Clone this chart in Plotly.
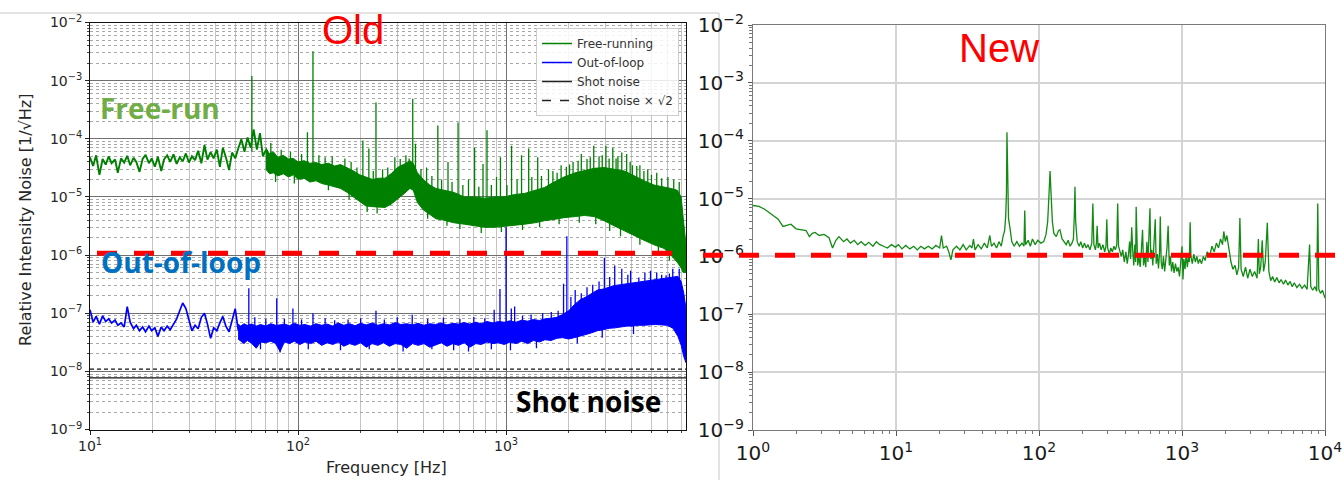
import plotly.graph_objects as go

# ---------------- "Old" panel: free-running RIN ----------------
# low-frequency part (single noisy trace)
fr_line_freq = [10.0, 10.35, 10.7, 11.1, 11.5, 11.9, 12.3, 12.7, 13.2, 13.6, 14.1, 14.6, 15.1, 15.6, 16.2,
                16.7, 17.3, 17.9, 18.5, 19.2, 19.8, 20.5, 21.2, 22.0, 22.7, 23.5, 24.3, 25.2, 26.1, 27.0,
                27.9, 28.9, 29.9, 30.9, 32.0, 33.1, 34.3, 35.5, 36.7, 38.0, 39.3, 40.7, 42.1, 43.5, 45.0,
                46.6, 48.2, 49.9, 51.6, 53.4, 55.3, 57.2, 59.2, 61.2, 63.4, 65.6, 67.8, 70.2]
fr_line_val = [4.8e-5, 3.4e-5, 5.2e-5, 2.4e-5, 4.5e-5, 3.6e-5, 5.0e-5, 3.8e-5, 4.4e-5, 2.6e-5, 4.6e-5,
               3.9e-5, 5.1e-5, 3.5e-5, 4.7e-5, 4.0e-5, 2.7e-5, 4.5e-5, 5.3e-5, 3.8e-5, 4.6e-5, 3.3e-5,
               4.9e-5, 2.8e-5, 4.4e-5, 5.2e-5, 4.0e-5, 5.4e-5, 3.7e-5, 4.8e-5, 4.1e-5, 5.6e-5, 3.9e-5,
               5.0e-5, 4.3e-5, 6.2e-5, 3.8e-5, 7.8e-5, 4.4e-5, 5.9e-5, 4.6e-5, 6.5e-5, 3.3e-5, 7.0e-5,
               4.8e-5, 2.9e-5, 5.8e-5, 4.6e-5, 6.8e-5, 9.8e-5, 6.0e-5, 1.05e-4, 7.0e-5, 1.45e-4, 6.5e-5,
               1.25e-4, 5.0e-5, 6.5e-5]
# dense part (band between low and high envelope)
fr_freq = [70.0, 73.0, 76.0, 80.0, 85.0, 90.0, 95.0, 100, 107, 114, 122, 130, 140, 150, 160, 172, 185, 198,
           212, 228, 245, 262, 280, 300, 325, 345, 358, 375, 400, 430, 460, 500, 560, 630, 700, 790,
           880, 980, 1100, 1230, 1380, 1530, 1700, 1900, 2150, 2380, 2650, 2960, 3300, 3700, 4150,
           4600, 5150, 5750, 6200, 6660, 6950, 7100, 7330]
fr_low = [3.0e-5, 2.5e-5, 2.6e-5, 2.3e-5, 2.5e-5, 2.2e-5, 2.4e-5, 2.0e-5, 2.1e-5, 1.8e-5, 1.9e-5, 1.7e-5,
          1.6e-5, 1.5e-5, 1.4e-5, 1.2e-5, 1.0e-5, 8.5e-6, 7.0e-6, 6.8e-6, 6.6e-6, 6.6e-6, 7.5e-6, 9.0e-6,
          1.15e-5, 1.4e-5, 1.3e-5, 8.0e-6, 6.0e-6, 5.0e-6, 4.2e-6, 4.0e-6, 3.6e-6, 3.4e-6, 3.2e-6, 3.0e-6,
          3.0e-6, 3.1e-6, 3.3e-6, 3.4e-6, 3.6e-6, 3.9e-6, 4.1e-6, 4.4e-6, 4.6e-6, 4.8e-6, 4.6e-6, 3.9e-6,
          3.2e-6, 2.6e-6, 2.1e-6, 1.8e-6, 1.5e-6, 1.3e-6, 1.0e-6, 7.5e-7, 6.0e-7, 5.0e-7, 5.0e-7]
fr_high = [7.0e-5, 5.5e-5, 6.0e-5, 4.8e-5, 5.2e-5, 4.5e-5, 4.6e-5, 4.0e-5, 4.2e-5, 3.8e-5, 3.9e-5, 3.6e-5,
           3.8e-5, 3.4e-5, 3.6e-5, 3.2e-5, 2.8e-5, 2.4e-5, 2.2e-5, 2.0e-5, 2.1e-5, 2.1e-5, 2.5e-5, 3.2e-5,
           3.7e-5, 4.2e-5, 3.8e-5, 2.6e-5, 2.0e-5, 1.6e-5, 1.4e-5, 1.3e-5, 1.2e-5, 1.0e-5, 1.0e-5, 9.5e-6,
           1.0e-5, 1.0e-5, 1.1e-5, 1.15e-5, 1.3e-5, 1.45e-5, 1.8e-5, 2.2e-5, 2.6e-5, 2.8e-5, 3.1e-5, 3.2e-5,
           3.0e-5, 2.8e-5, 2.3e-5, 1.9e-5, 1.6e-5, 1.5e-5, 1.4e-5, 1.3e-5, 1.0e-5, 4.5e-6, 1.5e-6]
# spectral lines and noise excursions: (frequency, start, end)
fr_spike_freq = [60, 111, 118, 205, 219, 237, 292, 342, 356, 367, 415, 470, 526, 588, 706, 775, 810, 940,
                 1063, 1187, 1285, 1420, 1760, 1950, 2100, 2300, 2450, 2640, 2800, 3020, 3260, 3450, 3600,
                 3800, 4050, 4400, 4800, 5300,
                 74, 83, 92, 104, 126, 135, 146, 168, 180, 192, 230, 255, 270, 310, 330, 390, 440, 490,
                 550, 620, 660, 740, 850, 900, 1010, 1130, 1330, 1480, 1600, 1680, 1840, 2020, 2220, 2540,
                 2900, 3130, 3380, 3950, 4250, 4600, 5000, 5600, 6000, 6400, 6800,
                 78, 96, 140, 176, 215, 240, 420, 520, 600, 760, 950, 1200, 1450, 1800, 2250, 2700, 3150,
                 3550, 4400, 5400, 6100]
fr_spike_base = [6e-5, 3e-5, 3e-5, 1.5e-5, 1.5e-5, 1.4e-5, 1.5e-5, 2e-5, 2e-5, 1.8e-5, 1e-5, 8e-6, 8e-6,
                 7e-6, 6e-6, 6e-6, 6e-6, 6e-6, 6e-6, 6e-6, 7e-6, 7e-6, 8e-6, 1e-5, 1e-5, 1e-5, 1e-5, 1e-5,
                 1e-5, 1e-5, 1e-5, 1e-5, 1e-5, 1e-5, 1e-5, 8e-6, 7e-6, 6e-6,
                 4e-5, 3.5e-5, 3e-5, 3e-5, 2.6e-5, 2.6e-5, 2.5e-5, 2.2e-5, 2e-5, 1.6e-5, 1.3e-5, 1.3e-5,
                 1.4e-5, 2e-5, 2.2e-5, 1.4e-5, 1e-5, 8e-6, 7e-6, 6e-6, 6e-6, 6e-6, 6e-6, 6e-6, 6e-6, 6e-6,
                 7e-6, 8e-6, 8e-6, 9e-6, 1e-5, 1.1e-5, 1.2e-5, 1.3e-5, 1.3e-5, 1.3e-5, 1.2e-5, 1e-5, 9e-6,
                 8e-6, 7e-6, 6e-6, 6e-6, 5e-6, 4e-6,
                 3e-5, 2.8e-5, 2.2e-5, 1.5e-5, 1.1e-5, 1e-5, 9e-6, 7e-6, 6e-6, 6e-6, 6e-6, 6e-6, 7e-6,
                 8e-6, 9e-6, 9e-6, 8e-6, 7e-6, 5e-6, 4e-6, 3e-6]
fr_spike_peak = [1.2e-3, 1.3e-4, 3.2e-3, 9.3e-5, 6.8e-5, 4.2e-4, 4.8e-5, 4.6e-5, 4.9e-4, 8.2e-5, 3.2e-5,
                 1.7e-4, 4.0e-5, 1.9e-4, 7.0e-5, 3.7e-5, 1.4e-4, 4.8e-5, 7.6e-5, 5.2e-5, 6.8e-5, 4.8e-5,
                 2.6e-5, 3.3e-5, 4.0e-5, 5.5e-5, 4.5e-5, 7.6e-5, 5.0e-5, 7.6e-5, 7.0e-5, 5.0e-5, 5.8e-5,
                 5.5e-5, 3.5e-5, 3.5e-5, 3.0e-5, 2.6e-5,
                 8.5e-5, 6.5e-5, 6.0e-5, 5.5e-5, 5.2e-5, 4.8e-5, 5.0e-5, 4.6e-5, 4.0e-5, 3.2e-5, 2.8e-5,
                 3.0e-5, 3.2e-5, 4.5e-5, 5.2e-5, 3.0e-5, 2.3e-5, 2.0e-5, 1.8e-5, 1.6e-5, 2.0e-5, 1.5e-5,
                 1.6e-5, 2.2e-5, 1.6e-5, 2.0e-5, 2.2e-5, 2.3e-5, 3.0e-5, 2.8e-5, 3.5e-5, 3.6e-5, 4.2e-5,
                 4.8e-5, 5.2e-5, 4.6e-5, 4.6e-5, 4.0e-5, 3.4e-5, 2.8e-5, 2.4e-5, 2.1e-5, 2.2e-5, 2.0e-5,
                 1.8e-5,
                 1.8e-5, 1.7e-5, 1.3e-5, 9e-6, 5.5e-6, 5.2e-6, 4.2e-6, 3.2e-6, 2.8e-6, 2.4e-6, 2.5e-6,
                 2.7e-6, 3.0e-6, 3.4e-6, 3.6e-6, 3.4e-6, 2.6e-6, 2.1e-6, 1.5e-6, 1.1e-6, 8e-7]

# ---------------- "Old" panel: out-of-loop RIN ----------------
ol_line_freq = [10.0, 10.35, 10.7, 11.1, 11.5, 11.9, 12.3, 12.7, 13.2, 13.6, 14.1, 14.6, 15.1, 15.6, 16.2,
                16.7, 17.3, 17.9, 18.5, 19.2, 19.8, 20.5, 21.2, 22.0, 22.7, 23.5, 24.3, 25.2, 26.1, 27.0,
                27.9, 28.9, 29.9, 30.9, 32.0, 33.1, 34.3, 35.5, 36.7, 38.0, 39.3, 40.7, 42.1, 43.5, 45.0,
                46.6, 48.2, 49.9, 51.6]
ol_line_val = [1.15e-7, 7.0e-8, 8.8e-8, 6.5e-8, 9.0e-8, 7.2e-8, 8.0e-8, 6.8e-8, 7.6e-8, 6.2e-8, 6.8e-8,
               5.8e-8, 1.3e-7, 7.0e-8, 5.4e-8, 6.2e-8, 5.0e-8, 5.8e-8, 4.8e-8, 6.0e-8, 5.0e-8, 5.6e-8,
               4.0e-8, 5.8e-8, 5.0e-8, 6.0e-8, 5.2e-8, 6.6e-8, 8.0e-8, 1.1e-7, 1.5e-7, 1.2e-7, 8.0e-8,
               5.0e-8, 6.2e-8, 5.4e-8, 8.5e-8, 1.0e-7, 6.5e-8, 3.7e-8, 5.6e-8, 5.0e-8, 6.8e-8, 8.8e-8,
               6.0e-8, 4.8e-8, 7.5e-8, 1.2e-7, 5.0e-8]
ol_freq = [51.5, 53, 55, 57, 60, 63, 66, 70, 74, 78, 82, 86, 91, 96, 102, 108, 115, 122, 130, 138, 147, 156,
           166, 177, 188, 200, 213, 227, 242, 258, 275, 293, 312, 333, 355, 378, 403, 430, 458, 488, 520,
           555, 590, 630, 670, 715, 760, 810, 865, 920, 980, 1045, 1115, 1190, 1270, 1355, 1445, 1540, 1645,
           1755, 1870, 2000, 2130, 2270, 2420, 2580, 2750, 2930, 3130, 3340, 3560, 3800, 4050, 4320, 4600,
           4900, 5230, 5580, 5950, 6350, 6700, 6950, 7150, 7330]
ol_low = [3.6e-8, 3.3e-8, 3.0e-8, 3.4e-8, 3.0e-8, 2.5e-8, 3.2e-8, 3.1e-8, 3.3e-8, 3.0e-8, 2.2e-8, 3.2e-8,
          3.0e-8, 3.3e-8, 2.9e-8, 3.2e-8, 3.0e-8, 3.3e-8, 2.8e-8, 3.1e-8, 2.9e-8, 3.2e-8, 2.7e-8, 3.0e-8,
          2.8e-8, 3.1e-8, 2.6e-8, 3.0e-8, 2.8e-8, 3.1e-8, 2.7e-8, 3.0e-8, 2.9e-8, 2.5e-8, 3.0e-8, 2.8e-8,
          3.0e-8, 2.6e-8, 2.8e-8, 3.1e-8, 2.7e-8, 3.0e-8, 2.8e-8, 3.1e-8, 2.6e-8, 3.0e-8, 2.9e-8, 3.2e-8,
          3.0e-8, 3.1e-8, 2.9e-8, 3.2e-8, 3.0e-8, 3.3e-8, 3.0e-8, 3.4e-8, 3.2e-8, 3.5e-8, 3.4e-8, 3.7e-8,
          3.8e-8, 3.6e-8, 3.8e-8, 4.0e-8, 4.3e-8, 4.6e-8, 5.0e-8, 5.2e-8, 5.5e-8, 5.6e-8, 5.8e-8, 6.0e-8,
          6.0e-8, 6.2e-8, 6.2e-8, 6.3e-8, 6.4e-8, 6.3e-8, 6.2e-8, 5.5e-8, 4.0e-8, 2.8e-8, 1.8e-8, 1.4e-8]
ol_high = [6.5e-8, 6.0e-8, 6.6e-8, 6.2e-8, 6.5e-8, 6.0e-8, 6.4e-8, 6.0e-8, 6.6e-8, 6.2e-8, 6.3e-8, 6.5e-8,
           6.1e-8, 6.7e-8, 6.2e-8, 6.4e-8, 6.0e-8, 6.6e-8, 6.2e-8, 6.5e-8, 6.0e-8, 6.8e-8, 6.2e-8, 6.6e-8,
           6.1e-8, 6.7e-8, 6.3e-8, 6.8e-8, 6.2e-8, 6.6e-8, 6.3e-8, 6.9e-8, 6.4e-8, 6.6e-8, 6.3e-8, 6.7e-8,
           6.2e-8, 6.6e-8, 6.4e-8, 6.8e-8, 6.3e-8, 6.7e-8, 6.5e-8, 6.9e-8, 6.5e-8, 7.0e-8, 6.6e-8, 7.2e-8,
           6.8e-8, 7.2e-8, 7.0e-8, 7.4e-8, 7.0e-8, 7.6e-8, 7.3e-8, 7.8e-8, 7.5e-8, 8.0e-8, 8.2e-8, 8.5e-8,
           9.5e-8, 1.1e-7, 1.4e-7, 1.7e-7, 1.9e-7, 2.2e-7, 2.5e-7, 2.6e-7, 2.8e-7, 3.0e-7, 3.1e-7, 3.2e-7,
           3.3e-7, 3.5e-7, 3.6e-7, 3.7e-7, 3.8e-7, 3.9e-7, 4.0e-7, 4.2e-7, 4.3e-7, 3.5e-7, 2.2e-7, 1.2e-7]
ol_spike_freq = [58, 79, 94.5, 118, 174, 237, 354, 877, 935, 1000, 1060, 1100, 1890, 1960, 2300, 2610,
                 2970, 3330, 3600, 3970, 4350, 4950, 5880, 6330, 6800,
                 62, 70, 86, 104, 135, 150, 200, 260, 300, 420, 500, 600, 700, 790, 1200, 1320, 1500,
                 1650, 1780, 2050, 2150, 2450, 2800, 3150, 3850, 4650, 5300, 5600, 6100,
                 66, 82, 112, 160, 220, 320, 440, 560, 660, 850, 1050, 1400, 2200, 2900, 4100]
ol_spike_base = [5e-8, 4.5e-8, 4.5e-8, 4.5e-8, 4.5e-8, 4.5e-8, 4.5e-8, 5e-8, 5e-8, 5e-8, 5e-8, 5e-8, 6e-8,
                 6e-8, 1e-7, 1e-7, 1e-7, 1.2e-7, 1.2e-7, 1.2e-7, 1.3e-7, 1.3e-7, 1.3e-7, 1.3e-7, 1.3e-7,
                 4.5e-8, 4.5e-8, 4.5e-8, 4.5e-8, 4.5e-8, 4.5e-8, 4.5e-8, 4.5e-8, 4.5e-8, 4.5e-8, 4.5e-8,
                 4.5e-8, 4.5e-8, 4.5e-8, 5e-8, 5e-8, 5e-8, 5e-8, 5e-8, 6e-8, 7e-8, 8e-8, 1e-7, 1e-7,
                 1.2e-7, 1.3e-7, 1.3e-7, 1.3e-7, 1.3e-7,
                 4e-8, 4e-8, 4e-8, 4e-8, 4e-8, 4e-8, 4e-8, 4e-8, 4e-8, 4e-8, 4e-8, 4e-8, 6e-8, 8e-8, 9e-8]
ol_spike_peak = [2.7e-7, 1.8e-7, 1.2e-7, 1.0e-7, 7.8e-8, 1.1e-7, 9.4e-8, 1.15e-7, 2.6e-7, 3.0e-6, 1.2e-7,
                 1.3e-7, 3.2e-7, 2.1e-6, 2.2e-7, 3.1e-7, 9.0e-7, 6.6e-7, 5.8e-7, 5.4e-7, 4.1e-7, 5.4e-7,
                 4.5e-7, 5.8e-7, 5.8e-7,
                 8.5e-8, 8.0e-8, 8.0e-8, 7.8e-8, 8.2e-8, 7.6e-8, 8.2e-8, 7.8e-8, 8.5e-8, 8.0e-8, 8.4e-8,
                 8.0e-8, 8.6e-8, 8.2e-8, 9.0e-8, 9.5e-8, 1.0e-7, 1.05e-7, 1.1e-7, 1.9e-7, 2.5e-7, 2.8e-7,
                 3.5e-7, 4.2e-7, 4.6e-7, 5.0e-7, 5.0e-7, 4.6e-7, 4.8e-7,
                 2.4e-8, 2.1e-8, 2.4e-8, 2.3e-8, 2.4e-8, 2.2e-8, 2.4e-8, 2.3e-8, 2.2e-8, 2.4e-8, 2.3e-8,
                 2.5e-8, 3.0e-8, 3.8e-8, 4.4e-8]

shot_noise = 7.7e-9
old_freq_span = [10, 7330]

# ---------------- "New" panel ----------------
new_freq = [1.00, 1.10, 1.20, 1.36, 1.50, 1.62, 1.75, 1.84, 2.0, 2.2, 2.35, 2.48, 2.6, 2.72, 2.9, 3.14, 3.4,
            3.6, 3.8, 3.99, 4.3, 4.54, 4.8, 5.1, 5.4, 5.7, 6.1, 6.45, 6.9, 7.3, 7.7, 8.2, 8.7, 9.3, 9.9,
            10.4, 11.0, 11.7, 12.5, 13.3, 14.1, 14.9, 15.8, 16.8, 17.9, 19.0, 20.2, 20.8, 21.4, 22.6, 23.4,
            24.2, 25.0, 26.5, 28.0, 29.5, 31.0, 32.8, 34.0, 34.8, 35.7, 37.5, 39.5, 41.5, 43.5, 45.3, 46.5,
            48.5, 50.5, 52.5, 54.5, 56.0, 57.5, 58.5, 59.2, 59.7, 60.3, 61.2, 62.8, 64.5, 67, 70, 73, 76,
            78.5, 79.5, 80.5, 84, 87, 90, 94, 98, 103, 108, 112, 115, 117.5, 119.5, 121.5, 124, 127, 132,
            137, 140, 145, 150, 155, 160, 165, 170, 174, 176.5, 178.5, 180.5, 185, 191, 196, 202, 208, 214,
            220, 227, 234, 238, 242, 248, 252, 255, 259, 265, 272, 280, 288, 294, 298, 302, 310, 318, 326,
            334, 342, 350, 355, 360, 368, 376, 385, 395, 405, 414, 423, 430, 437, 445, 452, 460, 468, 474,
            478, 483, 490, 500, 510, 520, 530, 538, 548, 558, 568, 578, 588, 597, 605, 615, 625, 638, 650,
            660, 672, 685, 697, 705, 715, 728, 742, 756, 770, 785, 800, 815, 830, 845, 862, 880, 900, 920,
            940, 960, 980, 1000, 1016, 1030, 1050, 1070, 1090, 1110, 1125, 1140, 1155, 1180, 1210, 1240,
            1270, 1300, 1330, 1370, 1410, 1450, 1500, 1560, 1620, 1680, 1740, 1800, 1860, 1920, 1960, 2010,
            2060, 2130, 2200, 2270, 2350, 2420, 2490, 2540, 2590, 2680, 2780, 2880, 2990, 3100, 3220, 3350,
            3420, 3470, 3550, 3640, 3720, 3820, 3950, 4050, 4170, 4300, 4450, 4600, 4780, 4930, 5120, 5300,
            5500, 5700, 5900, 6100, 6350, 6640, 6900, 7200, 7500, 7800, 7950, 8200, 8500, 8750, 8900, 9050,
            9300, 9600, 9800, 10000]
new_rin = [7.6e-6, 7.3e-6, 6.6e-6, 5.3e-6, 4.4e-6, 3.3e-6, 3.5e-6, 3.6e-6, 3.0e-6, 2.9e-6, 2.8e-6, 2.2e-6,
           2.5e-6, 2.6e-6, 2.3e-6, 2.4e-6, 2.1e-6, 1.4e-6, 1.9e-6, 2.2e-6, 1.8e-6, 2.0e-6, 1.7e-6, 1.9e-6,
           1.6e-6, 1.8e-6, 1.55e-6, 1.75e-6, 1.5e-6, 1.8e-6, 1.6e-6, 1.5e-6, 1.4e-6, 1.6e-6, 1.45e-6, 1.6e-6,
           1.35e-6, 1.55e-6, 1.35e-6, 1.5e-6, 1.3e-6, 1.5e-6, 1.35e-6, 1.5e-6, 1.35e-6, 1.55e-6, 1.4e-6,
           2.3e-6, 1.4e-6, 1.5e-6, 1.2e-6, 8.7e-7, 1.3e-6, 1.5e-6, 1.3e-6, 1.6e-6, 1.3e-6, 1.55e-6, 1.4e-6,
           2.0e-6, 1.3e-6, 1.6e-6, 1.35e-6, 1.7e-6, 1.4e-6, 2.3e-6, 1.5e-6, 1.7e-6, 1.4e-6, 1.8e-6, 1.5e-6,
           2.2e-6, 2.8e-6, 5.0e-6, 1.2e-5, 1.4e-4, 1.5e-5, 4.5e-6, 3.0e-6, 1.8e-6, 1.5e-6, 1.8e-6, 1.5e-6,
           1.7e-6, 1.5e-6, 6.2e-6, 1.6e-6, 1.9e-6, 1.5e-6, 2.0e-6, 1.6e-6, 1.9e-6, 1.7e-6, 1.8e-6, 2.4e-6,
           4.0e-6, 1.2e-5, 3.0e-5, 1.2e-5, 4.0e-6, 2.5e-6, 2.2e-6, 2.8e-6, 2.9e-6, 2.0e-6, 1.8e-6, 1.6e-6,
           1.9e-6, 1.5e-6, 1.7e-6, 2.0e-6, 5.0e-6, 1.6e-5, 4.0e-6, 1.8e-6, 1.5e-6, 1.8e-6, 1.4e-6, 1.7e-6,
           1.4e-6, 1.6e-6, 1.3e-6, 1.7e-6, 8.2e-6, 1.6e-6, 1.3e-6, 1.7e-6, 3.4e-6, 1.4e-6, 1.7e-6, 1.3e-6,
           1.6e-6, 1.2e-6, 1.5e-6, 4.4e-6, 1.4e-6, 1.1e-6, 1.4e-6, 1.2e-6, 1.5e-6, 1.3e-6, 1.6e-6, 8.2e-6,
           1.5e-6, 1.2e-6, 1.0e-6, 1.3e-6, 8.0e-7, 1.2e-6, 7.5e-7, 1.1e-6, 1.8e-6, 9.0e-7, 3.2e-6, 1.3e-6,
           7.0e-7, 1.6e-6, 8.0e-7, 7.2e-6, 1.2e-6, 7.0e-7, 1.0e-6, 6.6e-7, 1.3e-6, 2.9e-6, 7.0e-7, 1.0e-6,
           6.5e-7, 1.8e-6, 8.0e-7, 2.5e-6, 6.8e-6, 9.0e-7, 1.3e-6, 7.0e-7, 1.5e-6, 4.4e-6, 7.5e-7, 1.1e-6,
           6.2e-7, 1.2e-6, 4.9e-6, 8.0e-7, 6.0e-7, 1.0e-6, 5.5e-7, 9.0e-7, 1.4e-6, 3.4e-6, 7.0e-7, 1.0e-6,
           5.5e-7, 8.0e-7, 5.2e-7, 7.5e-7, 5.5e-7, 6.5e-7, 4.5e-7, 8.0e-7, 1.5e-6, 4.0e-7, 9.0e-7, 6.0e-7,
           1.1e-6, 6.5e-7, 1.0e-6, 8.0e-7, 3.9e-6, 1.0e-6, 7.5e-7, 1.1e-6, 8.0e-7, 1.0e-6, 7.5e-7, 9.0e-7,
           7.5e-7, 1.0e-6, 8.5e-7, 1.2e-6, 1.0e-6, 1.5e-6, 1.2e-6, 1.7e-6, 1.4e-6, 2.0e-6, 1.6e-6, 2.7e-6,
           1.8e-6, 2.3e-6, 1.3e-6, 8.0e-7, 6.0e-7, 7.0e-7, 4.8e-7, 6.5e-7, 4.6e-6, 6.0e-7, 4.5e-7, 6.5e-7,
           4.2e-7, 6.0e-7, 4.5e-7, 5.5e-7, 4.2e-7, 2.0e-6, 5.0e-7, 6.5e-7, 1.9e-6, 5.5e-7, 8.0e-7, 3.8e-6,
           5.5e-7, 3.8e-7, 4.5e-7, 3.6e-7, 4.3e-7, 3.5e-7, 4.0e-7, 3.3e-7, 3.9e-7, 3.2e-7, 3.7e-7, 3.0e-7,
           3.5e-7, 2.9e-7, 3.3e-7, 2.8e-7, 3.2e-7, 2.7e-7, 1.6e-6, 3.0e-7, 2.6e-7, 3.0e-7, 2.5e-7, 8.2e-6,
           2.7e-7, 2.3e-7, 2.6e-7, 2.1e-7, 1.9e-7]

target_levels = [1.08e-6, 1.05e-6]   # red dashed reference line (old, new)
y_exps = [-9, -8, -7, -6, -5, -4, -3, -2]
old_x_exps = [1, 2, 3]
new_x_exps = [0, 1, 2, 3, 4]

W, H = 1344, 480
def px(x):
    return x / W
def py(y):
    return 1 - y / H

def spikes(freqs, bases, peaks):
    xs, ys = [], []
    for f, b, p in zip(freqs, bases, peaks):
        xs += [f, f, None]
        ys += [b, p, None]
    return xs, ys

GREEN = "#008000"
BLUE = "#0000ff"
fig = go.Figure()

# legend entries
fig.add_trace(go.Scatter(x=[None], y=[None], mode="lines", name="Free-running", line=dict(color=GREEN, width=1.5)))
fig.add_trace(go.Scatter(x=[None], y=[None], mode="lines", name="Out-of-loop", line=dict(color=BLUE, width=1.5)))
fig.add_trace(go.Scatter(x=[None], y=[None], mode="lines", name="Shot noise", line=dict(color="#222222", width=1.5)))
fig.add_trace(go.Scatter(x=[None], y=[None], mode="lines", name="Shot noise × √2", line=dict(color="#222222", width=1.5, dash="dash")))

# free running
fig.add_trace(go.Scatter(x=fr_freq, y=fr_low, mode="lines", line=dict(color=GREEN, width=1), showlegend=False, hoverinfo="skip"))
fig.add_trace(go.Scatter(x=fr_freq, y=fr_high, mode="lines", line=dict(color=GREEN, width=1), fill="tonexty",
                         fillcolor=GREEN, showlegend=False, hoverinfo="skip"))
fig.add_trace(go.Scatter(x=fr_line_freq, y=fr_line_val, mode="lines", line=dict(color=GREEN, width=1.9), showlegend=False))
sx, sy = spikes(fr_spike_freq, fr_spike_base, fr_spike_peak)
fig.add_trace(go.Scatter(x=sx, y=sy, mode="lines", line=dict(color=GREEN, width=1.3), showlegend=False, connectgaps=False))

# out-of-loop
fig.add_trace(go.Scatter(x=ol_freq, y=ol_low, mode="lines", line=dict(color=BLUE, width=1), showlegend=False, hoverinfo="skip"))
fig.add_trace(go.Scatter(x=ol_freq, y=ol_high, mode="lines", line=dict(color=BLUE, width=1), fill="tonexty",
                         fillcolor=BLUE, showlegend=False, hoverinfo="skip"))
fig.add_trace(go.Scatter(x=ol_line_freq, y=ol_line_val, mode="lines", line=dict(color=BLUE, width=1.7), showlegend=False))
sx, sy = spikes(ol_spike_freq, ol_spike_base, ol_spike_peak)
fig.add_trace(go.Scatter(x=sx, y=sy, mode="lines", line=dict(color=BLUE, width=1.3), showlegend=False, connectgaps=False))

# shot noise
fig.add_trace(go.Scatter(x=old_freq_span, y=[shot_noise] * 2, mode="lines", line=dict(color="#111111", width=1.2), showlegend=False))
fig.add_trace(go.Scatter(x=old_freq_span, y=[shot_noise * 2 ** 0.5] * 2, mode="lines",
                         line=dict(color="#111111", width=1.2, dash="4px,3px"), showlegend=False))

# new panel
fig.add_trace(go.Scatter(x=new_freq, y=new_rin, mode="lines", line=dict(color="#138a13", width=1.3),
                         showlegend=False, xaxis="x2", yaxis="y2"))

def sup(e):
    s = str(e).replace("-", "\u2212")
    return f"10<sup>{s}</sup>"

def minor_vals(exps):
    return [m * 10.0 ** e for e in exps for m in range(2, 10)]

axfont_old = dict(family="DejaVu Sans", size=14, color="#262626")
axfont_new = dict(family="DejaVu Sans", size=20, color="#1a1a1a")

fig.update_layout(
    width=W, height=H, autosize=False, template="none",
    margin=dict(l=0, r=0, t=0, b=0, autoexpand=False),
    paper_bgcolor="white", plot_bgcolor="white",
    showlegend=True,
    legend=dict(x=px(679), y=py(28), xanchor="right", yanchor="top", traceorder="normal",
                bgcolor="rgba(255,255,255,0.85)", bordercolor="#cccccc", borderwidth=1,
                font=dict(family="DejaVu Sans", size=12, color="#333333"),
                itemwidth=30, tracegroupgap=0),
    xaxis=dict(type="log", range=[1, 3.8651], domain=[px(90), px(686)], anchor="y", automargin=False,
               tickmode="array", tickvals=[10.0 ** e for e in old_x_exps], ticktext=[sup(e) for e in old_x_exps],
               tickfont=axfont_old, ticks="outside", ticklen=4, tickcolor="#222",
               showline=True, linecolor="#111", linewidth=1, mirror=True,
               showgrid=True, gridcolor="#707070", gridwidth=1, zeroline=False,
               minor=dict(tickmode="array", tickvals=minor_vals([1, 2, 3]), ticks="outside", ticklen=2,
                          tickcolor="#444", showgrid=True, gridcolor="#c4c4c4", gridwidth=1)),
    yaxis=dict(type="log", range=[-9, -2], domain=[py(429.5), py(22.5)], anchor="x", automargin=False,
               tickmode="array", tickvals=[10.0 ** e for e in y_exps], ticktext=[sup(e) for e in y_exps],
               tickfont=axfont_old, ticks="outside", ticklen=4, tickcolor="#222",
               showline=True, linecolor="#111", linewidth=1, mirror=True,
               showgrid=True, gridcolor="#707070", gridwidth=1, zeroline=False,
               minor=dict(tickmode="array", tickvals=minor_vals(range(-9, -2)), ticks="outside", ticklen=2,
                          tickcolor="#444", showgrid=True, gridcolor="#a8a8a8", gridwidth=1, griddash="dot")),
    xaxis2=dict(type="log", range=[0, 4], domain=[px(753), px(1325)], anchor="y2", automargin=False,
                tickmode="array", tickvals=[10.0 ** e for e in new_x_exps], ticktext=[sup(e) for e in new_x_exps],
                tickfont=axfont_new, ticks="outside", ticklen=5, tickcolor="#555",
                showline=True, linecolor="#7a7a7a", linewidth=1.3, mirror=True,
                showgrid=True, gridcolor="#d4d4d4", gridwidth=1.6, zeroline=False,
                minor=dict(tickmode="array", tickvals=minor_vals([0, 1, 2, 3]), ticks="outside", ticklen=3,
                           tickcolor="#777", showgrid=False)),
    yaxis2=dict(type="log", range=[-9, -2], domain=[py(430), py(25)], anchor="x2", automargin=False,
                tickmode="array", tickvals=[10.0 ** e for e in y_exps], ticktext=[sup(e) for e in y_exps],
                tickfont=axfont_new, ticks="outside", ticklen=4, tickcolor="#555",
                showline=True, linecolor="#7a7a7a", linewidth=1.3, mirror=True,
                showgrid=True, gridcolor="#d4d4d4", gridwidth=1.6, zeroline=False,
                minor=dict(tickmode="array", tickvals=minor_vals(range(-9, -2)), ticks="outside", ticklen=2.5,
                           tickcolor="#777", showgrid=False)),
)

# red dashed reference lines
fig.add_shape(type="line", xref="paper", yref="y", x0=px(97), x1=px(689), y0=target_levels[0], y1=target_levels[0],
              line=dict(color="#ff0000", width=5, dash="20px,17px"), layer="above")
fig.add_shape(type="line", xref="paper", yref="y2", x0=px(703), x1=px(1344), y0=target_levels[1], y1=target_levels[1],
              line=dict(color="#ff0000", width=5, dash="20px,16px"), layer="above")

# slide borders
fig.add_shape(type="line", xref="paper", yref="paper", x0=0, x1=px(719), y0=py(13), y1=py(13),
              line=dict(color="#c8c8c8", width=1), layer="below")
fig.add_shape(type="line", xref="paper", yref="paper", x0=px(719), x1=px(719), y0=py(13), y1=0,
              line=dict(color="#c8c8c8", width=1), layer="below")

def note(text, x, y, size, color, family="Liberation Sans", bold=False, angle=0):
    t = f"<b>{text}</b>" if bold else text
    fig.add_annotation(text=t, xref="paper", yref="paper", x=px(x), y=py(y), xanchor="center", yanchor="middle",
                       showarrow=False, textangle=angle, font=dict(family=family, size=size, color=color))

note("Old", 353, 30, 40, "#ff0000")
note("New", 999, 48, 40, "#ff0000")
note("Free-run", 160, 108, 28, "#70ad47", family="Open Sans", bold=True)
note("Out-of-loop", 181, 262, 28, "#0070c0", family="Open Sans", bold=True)
note("Shot noise", 588, 401, 28, "#000000", family="Open Sans", bold=True)
note("Relative Intensity Noise [1/√Hz]", 26, 220, 16, "#262626", family="DejaVu Sans", angle=-90)
note("Frequency [Hz]", 386, 467, 16, "#262626", family="DejaVu Sans")

fig.write_html("out.html", config={"displayModeBar": False},
               post_script="document.body.style.margin='0px';document.body.style.overflow='hidden';")
